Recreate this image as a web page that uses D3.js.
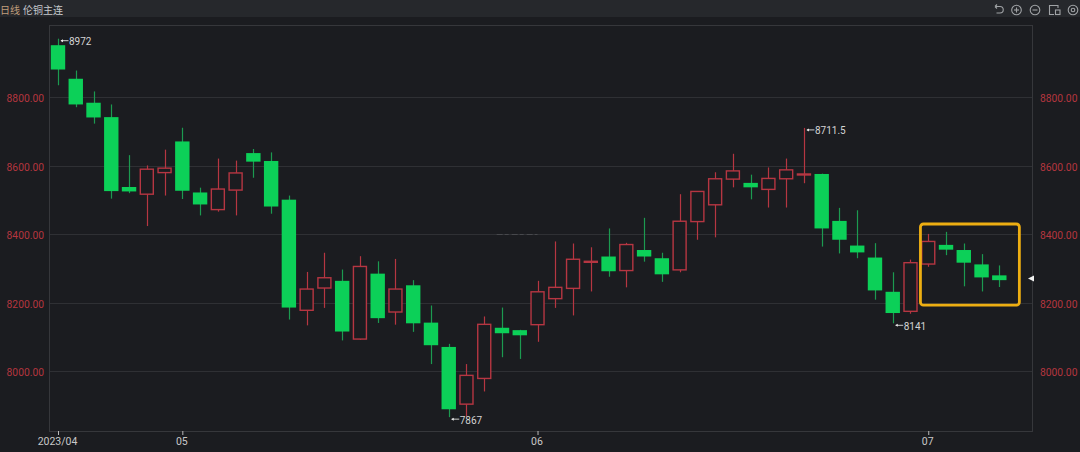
<!DOCTYPE html>
<html>
<head>
<meta charset="utf-8">
<script src="https://cdnjs.cloudflare.com/ajax/libs/d3/7.8.5/d3.min.js"></script>
<style>
  html, body { margin: 0; padding: 0; background: #1b1c20; }
  svg { display: block; }
  text { font-family: "Noto Sans CJK SC", Roboto, sans-serif; }
</style>
</head>
<body>
<div id="chart"></div>
<script>
// Daily candles
const opens = [8953,8855,8785,8743,8539,8518,8581,8672,8523,8473,8530,8638,8615,8502,8179,8244,8265,8095,8286,8174,8252,8143,8072,7905,7980,8128,8121,8137,8213,8243,8320,8336,8295,8355,8331,8297,8438,8487,8562,8551,8532,8563,8576,8577,8440,8368,8333,8233,8176,8314,8370,8355,8313,8281];
const highs = [8972,8879,8818,8780,8632,8602,8648,8712,8537,8622,8616,8650,8640,8514,8291,8347,8298,8337,8322,8329,8267,8193,8081,8022,8161,8187,8122,8265,8380,8374,8363,8418,8376,8449,8347,8518,8526,8582,8636,8575,8596,8622,8711.5,8578,8478,8471,8375,8290,8327,8402,8408,8374,8343,8310];
const lows = [8836,8772,8724,8505,8521,8425,8514,8504,8456,8467,8456,8566,8461,8152,8135,8186,8091,8093,8142,8137,8116,8022,7867,7869,7942,8042,8037,8087,8186,8164,8234,8277,8246,8321,8262,8290,8385,8392,8538,8503,8479,8479,8550,8365,8345,8331,8210,8141,8169,8306,8340,8249,8234,8247];
const closes = [8882,8780,8742,8527,8526,8591,8594,8528,8488,8533,8580,8613,8482,8187,8241,8274,8117,8307,8156,8241,8141,8077,7890,7989,8138,8112,8106,8233,8246,8328,8322,8293,8371,8336,8284,8439,8526,8563,8586,8538,8564,8589,8577,8418,8385,8348,8237,8171,8318,8380,8356,8318,8275,8267];

const priceTicks = [8000, 8200, 8400, 8600, 8800];
const monthIdx = [0, 7, 27, 49];
const monthLabels = ["2023/04", "05", "06", "07"];

// high/low flags on the chart
const markIdx = [0, 22, 42, 47];
const markVal = [8972, 7867, 8711.5, 8141];
const markText = ["8972", "7867", "8711.5", "8141"];

const lastPrice = 8272;
const boxIdx = [48.56, 54.13];      // yellow highlight box
const boxPrice = [8194, 8431];

const width = 1080, height = 452;
const plot = { left: 49, right: 1032, top: 25, bottom: 431 };

const svg = d3.select("#chart").append("svg")
    .attr("width", width)
    .attr("height", height);

const x = d3.scaleLinear().domain([0, 53]).range([58, 999.3]);
const y = d3.scaleLinear().domain([8000, 8800]).range([371.6, 97.6]);

const upColor = "#b63642", downColor = "#0cd058", downWick = "#1c9a50";
const gridColor = "#2f3034", axisColor = "#36373b", labelRed = "#b5363f";
const bodyW = 14.4;

// background and header strip
svg.append("rect").attr("width", width).attr("height", height).attr("fill", "#1b1c20");
svg.append("rect").attr("width", width).attr("height", 17).attr("fill", "#26282c");

svg.append("text").attr("x", 0).attr("y", 13.5).attr("font-size", 10)
    .attr("fill", "#c29f7c").text("日线");
svg.append("text").attr("x", 23).attr("y", 13.5).attr("font-size", 10)
    .attr("fill", "#c6cacd").text("伦铜主连");

// grid
svg.append("g").selectAll("line").data(priceTicks).join("line")
    .attr("x1", plot.left).attr("x2", plot.right)
    .attr("y1", d => Math.floor(y(d)) + 0.5).attr("y2", d => Math.floor(y(d)) + 0.5)
    .attr("stroke", gridColor);

// plot frame
svg.append("rect")
    .attr("x", plot.left + 0.5).attr("y", plot.top + 0.5)
    .attr("width", plot.right - plot.left).attr("height", plot.bottom - plot.top)
    .attr("fill", "none").attr("stroke", axisColor);

// faint mark sitting on the 8400 line
svg.append("line")
    .attr("x1", x(24.7)).attr("x2", x(27))
    .attr("y1", Math.floor(y(8400)) + 0.5).attr("y2", Math.floor(y(8400)) + 0.5)
    .attr("stroke", "#47484c").attr("stroke-dasharray", "6 2 4 3");

// axes
const axisLeft = d3.axisLeft(y).tickValues(priceTicks).tickSize(0).tickPadding(5).tickFormat(d3.format(".2f"));
const axisRight = d3.axisRight(y).tickValues(priceTicks).tickSize(0).tickPadding(8).tickFormat(d3.format(".2f"));

[[axisLeft, plot.left], [axisRight, plot.right]].forEach(([ax, pos]) => {
    const g = svg.append("g").attr("transform", `translate(${pos},0)`).call(ax);
    g.select(".domain").remove();
    g.selectAll("text").attr("fill", labelRed).attr("font-size", 10.3)
        .attr("transform", "translate(0,1)")
        .style("font-family", "Roboto, sans-serif");
});

const axisX = d3.axisBottom(x).tickValues(monthIdx).tickSize(4).tickPadding(3)
    .tickFormat((d, i) => monthLabels[i]);
const gx = svg.append("g").attr("transform", `translate(0,${plot.bottom})`).call(axisX);
gx.select(".domain").remove();
gx.selectAll("line").attr("stroke", "#b8b8b8");
gx.selectAll("text").attr("fill", "#c8c8c8").attr("font-size", 10.5).attr("dx", -1)
    .style("font-family", "Roboto, sans-serif");

// candles
const idx = d3.range(opens.length);
const isUp = i => closes[i] >= opens[i];

svg.append("g").selectAll("line").data(idx).join("line")
    .attr("x1", i => Math.round(x(i)) + 0.5).attr("x2", i => Math.round(x(i)) + 0.5)
    .attr("y1", i => y(highs[i])).attr("y2", i => y(lows[i]))
    .attr("stroke", i => isUp(i) ? upColor : downWick)
    .attr("stroke-width", 1.2);

svg.append("g").selectAll("rect").data(idx).join("rect")
    .attr("x", i => x(i) - bodyW / 2 + (isUp(i) ? 0.7 : 0))
    .attr("width", i => isUp(i) ? bodyW - 1.4 : bodyW)
    .attr("y", i => y(Math.max(opens[i], closes[i])))
    .attr("height", i => Math.max(1, Math.abs(y(opens[i]) - y(closes[i]))))
    .attr("fill", i => isUp(i) ? "#1b1c20" : downColor)
    .attr("stroke", i => isUp(i) ? upColor : "none")
    .attr("stroke-width", 1.4);

// high/low labels
const marks = svg.append("g").selectAll("g").data(markIdx).join("g")
    .attr("transform", (d, i) => `translate(${x(d)},${y(markVal[i]) + 2})`);
marks.append("line").attr("x1", 3).attr("x2", 10.5).attr("stroke", "#cfcfcf");
marks.append("path").attr("d", "M2.5,0L5,-1.5L5,1.5Z").attr("fill", "#e8e8e8");
marks.append("text").attr("x", 11).attr("y", 4.4)
    .attr("font-size", 10).attr("fill", "#d4d4d4")
    .style("font-family", "Roboto, sans-serif")
    .text((d, i) => markText[i]);

// yellow highlight box
svg.append("rect")
    .attr("x", x(boxIdx[0])).attr("width", x(boxIdx[1]) - x(boxIdx[0]))
    .attr("y", y(boxPrice[1])).attr("height", y(boxPrice[0]) - y(boxPrice[1]))
    .attr("rx", 3)
    .attr("fill", "none").attr("stroke", "#edae12").attr("stroke-width", 2.8);

// last price pointer
svg.append("path")
    .attr("transform", `translate(1031,${y(lastPrice)})`)
    .attr("d", "M-3,0L3,-3L3,3Z")
    .attr("fill", "#f2f2f2");

// toolbar icons in the header
const icons = svg.append("g").attr("fill", "none").attr("stroke", "#a0a3a6").attr("stroke-width", 1.1);
icons.append("path").attr("d", "M995,6.5h5a3.2,3.2 0 0 1 0,6.5h-3.5M995,6.5l2,-2M995,6.5l2,2");
[1016.5, 1035].forEach(cx => {
    icons.append("circle").attr("cx", cx).attr("cy", 10).attr("r", 4.8);
    icons.append("line").attr("x1", cx - 2.5).attr("x2", cx + 2.5).attr("y1", 10).attr("y2", 10);
});
icons.append("line").attr("x1", 1016.5).attr("x2", 1016.5).attr("y1", 7.5).attr("y2", 12.5);
icons.append("path").attr("d", "M1054,14.5H1049.5V5.5H1058V8");
icons.append("rect").attr("x", 1055.5).attr("y", 10).attr("width", 4.5).attr("height", 4.5);
icons.append("circle").attr("cx", 1073).attr("cy", 10).attr("r", 4.8);
icons.append("circle").attr("cx", 1073).attr("cy", 10).attr("r", 1.8);
</script>
</body>
</html>
